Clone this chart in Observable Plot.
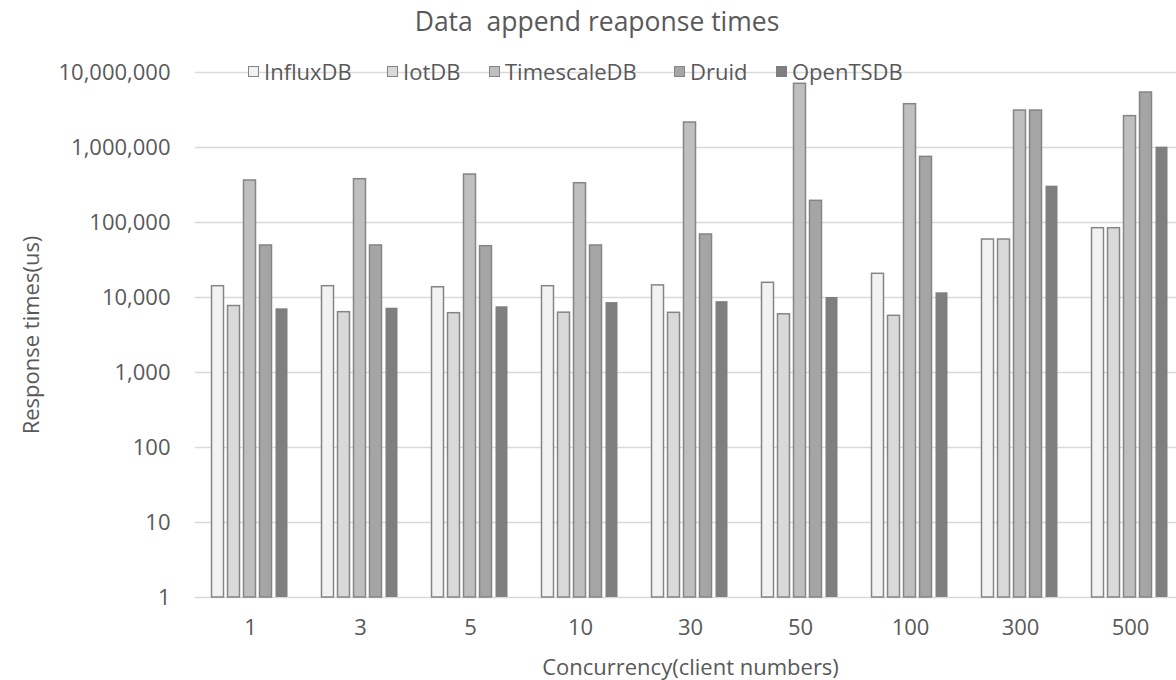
<!DOCTYPE html>
<html>
<head>
<meta charset="utf-8">
<script src="https://cdn.jsdelivr.net/npm/d3@7"></script>
<script src="https://cdn.jsdelivr.net/npm/@observablehq/plot@0.6"></script>
<style>
  html, body { margin: 0; padding: 0; background: #fff; }
  #chart { position: relative; width: 1176px; height: 680px; overflow: hidden; font-family: "Open Sans", sans-serif; color: #595959; }
  #title { position: relative; height: 48px; }
  #title span { position: absolute; left: 597px; top: 8px; transform: translateX(-50%); font-size: 26.5px; line-height: 26px; white-space: nowrap; }
  #legend { position: absolute; top: 60px; left: 0; height: 24px; }
  .item { position: absolute; top: 0; display: flex; align-items: center; font-size: 22px; line-height: 22px; white-space: nowrap; }
  .sw { width: 11px; height: 11px; box-sizing: border-box; margin-right: 5px; }
</style>
</head>
<body>
<div id="chart">
  <div id="title"><span>Data&nbsp; append reaponse times</span></div>
  <div id="plot"></div>
  <div id="legend"></div>
</div>
<script>
const categories = ["1", "3", "5", "10", "30", "50", "100", "300", "500"];
const series = ["InfluxDB", "IotDB", "TimescaleDB", "Druid", "OpenTSDB"];
const influxDB    = [14150, 14150, 13700, 14150, 14500, 15700, 20700, 59300, 84000];
const iotDB       = [7700, 6370, 6180, 6280, 6250, 5970, 5700, 59300, 84000];
const timescaleDB = [363000, 378000, 436000, 334000, 2154000, 7070000, 3780000, 3110000, 2620000];
const druid       = [49400, 49400, 48300, 49400, 69200, 194500, 750000, 3110000, 5410000];
const openTSDB    = [7070, 7200, 7520, 8560, 8800, 10000, 11550, 305000, 1010000];
const yTicks = [1, 10, 100, 1000, 10000, 100000, 1000000, 10000000];
const fills = ["#f2f2f2", "#d9d9d9", "#bfbfbf", "#a5a5a5", "#7f7f7f"];
const legendLeft = [248, 387, 489, 674, 776];

const seriesValues = [influxDB, iotDB, timescaleDB, druid, openTSDB];
const data = [];
categories.forEach((c, i) => {
  series.forEach((s, j) => data.push({cat: c, series: s, value: seriesValues[j][i]}));
});

const chart = Plot.plot({
  width: 1176,
  height: 632,
  marginTop: 24,
  marginBottom: 83,
  marginLeft: 192.5,
  marginRight: -10.5,
  style: {fontFamily: "Open Sans, sans-serif", fontSize: "22px", color: "#595959", background: "#fff"},
  fx: {domain: categories, padding: 0, label: null},
  x: {domain: series, paddingInner: 0.22, paddingOuter: 0.86, axis: null},
  y: {type: "log", domain: [1, 10000000], label: null},
  color: {domain: series, range: fills},
  marks: [
    Plot.gridY(yTicks, {stroke: "#d9d9d9", strokeOpacity: 1, strokeWidth: 1.5}),
    Plot.barY(data.filter(d => d.series !== "OpenTSDB"), {fx: "cat", x: "series", y1: 1, y2: "value", fill: "series", stroke: "#858585", strokeWidth: 1.5}),
    Plot.barY(data.filter(d => d.series === "OpenTSDB"), {fx: "cat", x: "series", y1: 1, y2: "value", fill: "series"}),
    Plot.axisY(yTicks, {anchor: "left", tickSize: 0, tickPadding: 25, tickFormat: d3.format(","), label: "Response times(us)", labelAnchor: "center", labelOffset: 172, labelArrow: "none"}),
    Plot.axisFx({anchor: "bottom", tickSize: 0, tickPadding: 22, label: "Concurrency(client numbers)", labelAnchor: "center", labelOffset: 77, labelArrow: "none"})
  ]
});
document.getElementById("plot").appendChild(chart);

const legend = document.getElementById("legend");
series.forEach((s, j) => {
  const item = document.createElement("div");
  item.className = "item";
  item.style.left = legendLeft[j] + "px";
  const sw = document.createElement("span");
  sw.className = "sw";
  sw.style.background = fills[j];
  sw.style.border = j === series.length - 1 ? "none" : "1px solid #858585";
  const t = document.createElement("span");
  t.textContent = s;
  item.appendChild(sw);
  item.appendChild(t);
  legend.appendChild(item);
});
</script>
</body>
</html>
